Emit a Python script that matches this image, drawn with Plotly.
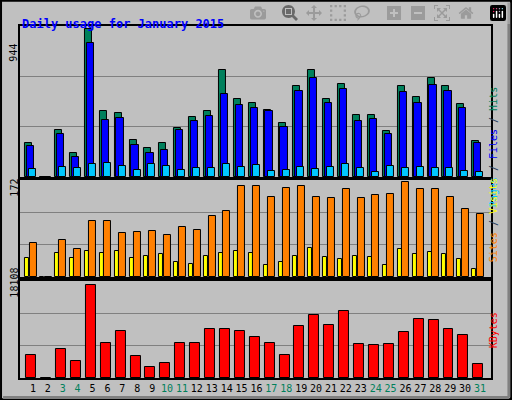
import plotly.graph_objects as go

days = list(range(1, 32))
weekend = [3, 4, 10, 11, 17, 18, 24, 25, 31]

hits = [219, 0, 300, 156, 944, 419, 412, 237, 187, 219, 312, 381, 419, 681, 500, 475,
        431, 344, 581, 681, 500, 594, 394, 394, 294, 581, 512, 631, 581, 469, 231]
files = [200, 0, 275, 125, 856, 362, 375, 206, 156, 175, 300, 356, 387, 531, 462, 444,
         419, 319, 550, 631, 475, 562, 356, 369, 275, 544, 475, 587, 550, 444, 219]
pages = [50, 0, 62, 56, 81, 87, 69, 44, 81, 69, 44, 56, 56, 81, 62, 75,
         37, 44, 62, 50, 62, 81, 56, 31, 69, 56, 62, 56, 56, 37, 31]
visits = [61, 0, 68, 50, 102, 102, 80, 81, 83, 76, 91, 85, 111, 120, 166, 166,
          146, 161, 166, 146, 144, 159, 144, 148, 150, 172, 159, 159, 146, 124, 115]
sites = [35, 0, 43, 35, 48, 44, 48, 35, 39, 41, 28, 24, 39, 43, 48, 44,
         22, 28, 39, 52, 37, 33, 39, 37, 22, 50, 41, 46, 41, 33, 15]
kbytes = [4430, 0, 5620, 3240, 18108, 6810, 9190, 4230, 2050, 2840, 6810, 6810, 9580, 9580,
          9190, 8000, 6810, 4430, 10180, 12160, 10380, 12960, 6610, 6410, 6610, 8990,
          11370, 11170, 9580, 8390, 2640]

BG = "#c0c0c0"
fig = go.Figure()

def bars(y, color, offset, width, ax):
    fig.add_trace(go.Bar(x=days, y=y, offset=offset, width=width, marker_color=color,
                         marker_line=dict(color="black", width=1), xaxis="x" + ax,
                         yaxis="y" + ax, showlegend=False))

bars(hits, "#00805c", -0.52, 0.47, "")
bars(files, "#0000ff", -0.40, 0.49, "")
bars(pages, "#00c8ff", -0.25, 0.47, "")
bars(sites, "#ffff00", -0.52, 0.27, "2")
bars(visits, "#ff8000", -0.22, 0.47, "2")
bars(kbytes, "#ff0000", -0.45, 0.67, "3")

ranges = {"": 965, "2": 176, "3": 18830}
doms = {"": [0.5575, 0.935], "2": [0.3075, 0.55], "3": [0.055, 0.2975]}
lay = {}
for ax, top in ranges.items():
    lay["yaxis" + ax] = dict(domain=doms[ax], range=[0, top], anchor="x" + ax,
                             tickvals=[top / 3, 2 * top / 3], showticklabels=False,
                             gridcolor="#808080", gridwidth=1, zeroline=False,
                             showline=True, linecolor="black", linewidth=2, mirror=True,
                             ticks="")
    lay["xaxis" + ax] = dict(domain=[0.039, 0.959], range=[0.13, 31.74], anchor="y" + ax,
                             showgrid=False, zeroline=False, showline=True,
                             linecolor="black", linewidth=2, mirror=True,
                             showticklabels=(ax == "3"), ticks="", tickangle=0,
                             tickvals=days,
                             ticktext=[f"<span style='color:#00805c'>{d}</span>" if d in weekend
                                       else str(d) for d in days],
                             tickfont=dict(family="DejaVu Sans Mono", size=10, color="black"))

mono = dict(family="DejaVu Sans Mono", size=10)
notes = [
    dict(x=0.039, y=385, text="<b>Daily usage for January 2015</b>", xanchor="left",
         font=dict(family="DejaVu Sans Mono", size=12, color="#0000ff"), textangle=0),
    dict(x=0.012, y=358, text="944", font=dict(mono, color="black"), textangle=-90),
    dict(x=0.012, y=212, text="172", font=dict(mono, color="black"), textangle=-90),
    dict(x=0.012, y=100, text="18108", font=dict(mono, color="black"), textangle=-90),
    dict(x=0.978, y=315, textangle=-90, font=mono,
         text="<span style='color:#00c8ff'>Pages</span> / <span style='color:#0000ff'>Files</span>"
              " / <span style='color:#00805c'>Hits</span>"),
    dict(x=0.978, y=180, textangle=-90, font=mono,
         text="<span style='color:#ff8000'>Sites</span> / <span style='color:#ffff00'>Visits</span>"),
    dict(x=0.978, y=50, textangle=-90, font=mono,
         text="<span style='color:#ff0000'>KBytes</span>"),
]
annotations = []
for n in notes:
    d = dict(xref="paper", yref="paper", showarrow=False)
    d.update(n)
    d["y"] = n["y"] / 400
    annotations.append(d)

fig.update_layout(
    width=512, height=400, margin=dict(l=0, r=0, t=0, b=0),
    paper_bgcolor=BG, plot_bgcolor=BG, barmode="overlay", bargap=0,
    annotations=annotations,
    shapes=[dict(type="rect", xref="paper", yref="paper", x0=0.002, y0=0.002, x1=0.998, y1=0.998,
                 line=dict(color="black", width=2)),
            dict(type="line", xref="paper", yref="paper", x0=0.006, y0=0.006, x1=0.994, y1=0.006,
                 line=dict(color="#808080", width=3)),
            dict(type="line", xref="paper", yref="paper", x0=0.994, y0=0.006, x1=0.994, y1=0.994,
                 line=dict(color="#808080", width=3))],
    **lay,
)
# drop the page's default body margin so the 512x400 figure fits the window
fig.write_html("out.html", post_script="document.body.style.margin='0';")
